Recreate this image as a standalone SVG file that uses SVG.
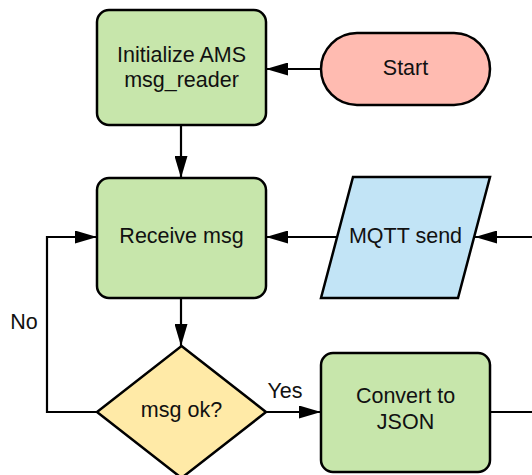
<svg xmlns="http://www.w3.org/2000/svg" width="532" height="475" viewBox="0 0 532 475">
  <defs>
    <marker id="arrow" markerUnits="userSpaceOnUse" markerWidth="22" markerHeight="13" refX="22" refY="6.5" orient="auto">
      <path d="M0,0 L22,6.5 L0,13 Z" fill="#000"/>
    </marker>
    <style>
      .node { stroke: #000; stroke-width: 2.5; }
      .proc { fill: #c7e6ab; }
      .term { fill: #ffbbb1; }
      .io { fill: #c2e4f6; }
      .dec { fill: #ffeaa7; }
      .lbl { font-family: "Liberation Sans", Arial, sans-serif; font-size: 21.5px; fill: #111; text-anchor: middle; }
      .edge { fill: none; stroke: #000; stroke-width: 2.2; }
    </style>
  </defs>
  <rect width="532" height="475" fill="#fff"/>

  <g id="connectors">
    <path class="edge" d="M321,69 L266,69" marker-end="url(#arrow)"/>
    <path class="edge" d="M181,125 L181,178" marker-end="url(#arrow)"/>
    <path class="edge" d="M532,237 L475,237" marker-end="url(#arrow)"/>
    <path class="edge" d="M337,237 L266,237" marker-end="url(#arrow)"/>
    <path class="edge" d="M181,298 L181,346" marker-end="url(#arrow)"/>
    <path class="edge" d="M97,412 L47,412 L47,237 L97,237" marker-end="url(#arrow)"/>
    <path class="edge" d="M266,412 L321,412" marker-end="url(#arrow)"/>
    <path class="edge" d="M490,412 L532,412"/>
    <text class="lbl" x="24" y="329">No</text>
    <text class="lbl" x="285" y="398">Yes</text>
  </g>

  <g id="init">
    <rect class="node proc" x="97" y="10" width="169" height="115" rx="12"/>
    <text class="lbl" x="181.5" y="62">Initialize AMS</text>
    <text class="lbl" x="181.5" y="87">msg_reader</text>
  </g>

  <g id="start">
    <rect class="node term" x="321" y="33" width="169" height="72" rx="36"/>
    <text class="lbl" x="405.5" y="75">Start</text>
  </g>

  <g id="receive">
    <rect class="node proc" x="97" y="178" width="169" height="120" rx="12"/>
    <text class="lbl" x="181.5" y="243">Receive msg</text>
  </g>

  <g id="mqtt">
    <polygon class="node io" points="353,177 490,177 458,298 321,298"/>
    <text class="lbl" x="405.5" y="243">MQTT send</text>
  </g>

  <g id="check">
    <polygon class="node dec" points="181.5,346 266,412 181.5,478 97,412"/>
    <text class="lbl" x="181.5" y="417">msg ok?</text>
  </g>

  <g id="convert">
    <rect class="node proc" x="321" y="353" width="169" height="119" rx="12"/>
    <text class="lbl" x="405.5" y="403">Convert to</text>
    <text class="lbl" x="405.5" y="429">JSON</text>
  </g>
</svg>
